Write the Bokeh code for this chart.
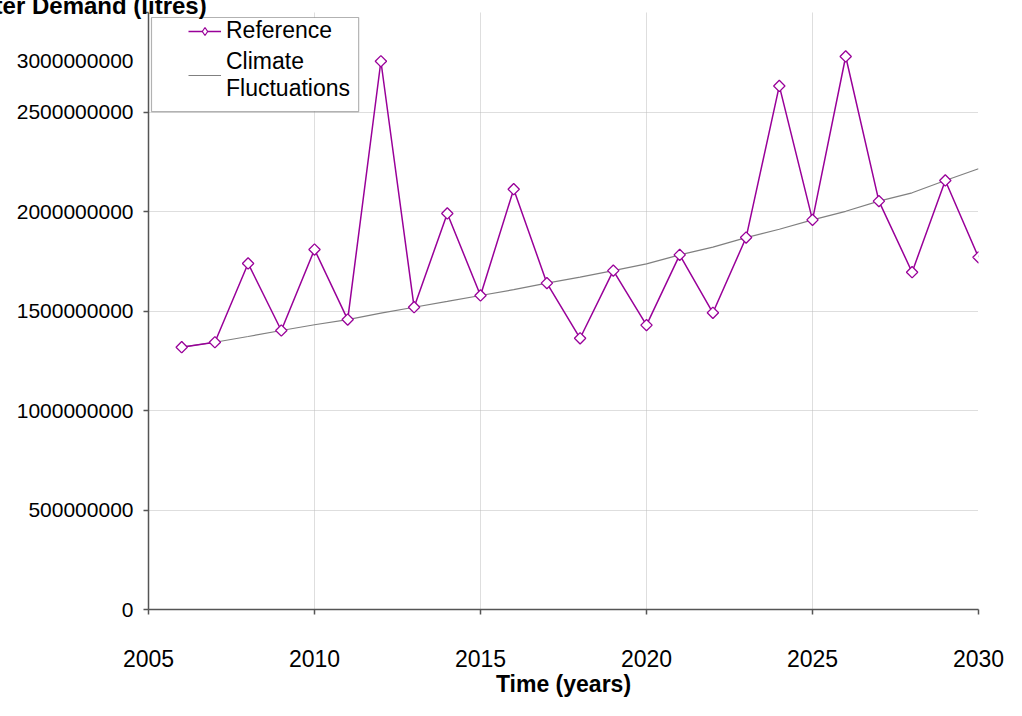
import math
from bokeh.plotting import figure
from bokeh.models import (FixedTicker, Legend, LegendItem, BoxAnnotation, Range1d, LinearAxis)
from bokeh.embed import file_html
from bokeh.resources import INLINE

# ---- data ----
years = list(range(2006, 2031))
reference = [1318e6, 1343e6, 1739e6, 1402e6, 1809e6, 1457e6, 2755e6, 1519e6, 1990e6, 1578e6,
             2112e6, 1640e6, 1363e6, 1703e6, 1429e6, 1782e6, 1491e6, 1869e6, 2631e6, 1958e6,
             2779e6, 2052e6, 1695e6, 2156e6, 1770e6]
climate = [1318e6, 1343e6, 1372e6, 1402e6, 1431e6, 1457e6, 1489e6, 1519e6, 1548e6, 1578e6,
           1607e6, 1640e6, 1670e6, 1703e6, 1737e6, 1782e6, 1821e6, 1869e6, 1911e6, 1958e6,
           2001e6, 2052e6, 2094e6, 2156e6, 2215e6]
x_ticks = [2005, 2010, 2015, 2020, 2025, 2030]
y_ticks = [0, 500000000, 1000000000, 1500000000, 2000000000, 2500000000, 3000000000]
y_tick_labels = ["0", "500000000", "1000000000", "1500000000", "2000000000", "2500000000", "3000000000"]

FONT = "Liberation Sans"
PURPLE = "#990099"
GREY = "#808080"
AXIS = "#555555"

W, H = 1006, 700
LEFT, TOP, RIGHT, BOTTOM = 148, 12, 28, 91
Y0, Y1 = 0, 3000000000
frame_h = H - TOP - BOTTOM
units_per_px = (Y1 - Y0) / frame_h

p = figure(width=W, height=H, output_backend="svg", toolbar_location=None,
           x_range=Range1d(2005, 2030), y_range=Range1d(Y0, Y1),
           min_border_left=LEFT, min_border_right=RIGHT, min_border_top=TOP,
           min_border_bottom=BOTTOM)
p.outline_line_color = None
p.background_fill_color = "white"

# title of the value axis, cut by the left edge as in the reference
p.title.text = "Water Demand (litres)"
p.title.text_font = FONT
p.title.text_font_size = "24px"
p.title.text_font_style = "bold"
p.title.text_color = "black"
p.title.align = "left"
p.title.offset = -189
p.title.vertical_align = "top"
p.title.standoff = -17

# grids
for g in (p.xgrid, p.ygrid):
    g.grid_line_color = "#bdbdbd"
    g.grid_line_dash = "1 1"
    g.grid_line_width = 1

# x axis
p.xaxis.ticker = FixedTicker(ticks=x_ticks)
# inner y axis: line and tick marks only
p.yaxis.ticker = FixedTicker(ticks=y_ticks)
p.yaxis.major_label_overrides = {t: "" for t in y_ticks}
p.yaxis.major_label_standoff = 0
for ax in (p.xaxis, p.yaxis):
    ax.axis_line_color = AXIS
    ax.axis_line_width = 1.5
    ax.major_tick_line_color = AXIS
    ax.major_tick_line_width = 1.5
    ax.major_tick_out = 5
    ax.major_tick_in = 0
    ax.minor_tick_line_color = None
    ax.major_label_text_font = FONT
    ax.major_label_text_color = "black"
p.xaxis.major_label_text_font_size = "23px"
p.xaxis.major_label_standoff = 35
p.xaxis.axis_label = "Time (years)"
p.xaxis.axis_label_text_font = FONT
p.xaxis.axis_label_text_font_size = "23px"
p.xaxis.axis_label_text_font_style = "bold"
p.xaxis.axis_label_text_color = "black"
p.xaxis.axis_label_standoff = 1

# outer y axis: the tick labels, the top one displaced lower as in the reference
label_pos = list(y_ticks)
label_pos[-1] = int(round(y_ticks[-1] - 48 * units_per_px))
ylab = LinearAxis(ticker=FixedTicker(ticks=label_pos, minor_ticks=[]),
                  major_label_overrides={v: s for v, s in zip(label_pos, y_tick_labels)},
                  axis_line_color=None, major_tick_line_color=None, minor_tick_line_color=None,
                  major_tick_out=0, major_tick_in=0, minor_tick_out=0, minor_tick_in=0,
                  major_label_standoff=10, major_label_text_font=FONT,
                  major_label_text_font_size="21px", major_label_text_color="black")
p.add_layout(ylab, "left")

# series
clim_line = p.line(years, climate, line_color=GREY, line_width=1.2)
ref_line = p.line(years, reference, line_color=PURPLE, line_width=1.5)
# legend swatch for the diamond marker (legend glyphs ignore rotation); it sits under
# the first reference marker, which hides it
ref_swatch = p.scatter(x=years[:1], y=reference[:1], marker="diamond", size=11,
                       line_color=PURPLE, fill_color="white", line_width=1.2)
ref_pts = p.scatter(years, reference, marker="square", angle=math.pi / 4, size=8,
                    line_color=PURPLE, fill_color="white", line_width=1.3)

# legend box
box = BoxAnnotation(left=2005.09, right=2011.33, top=2975e6, bottom=2502e6,
                    fill_color="white", fill_alpha=1.0, line_color="black", line_width=1.2,
                    level="annotation")
p.add_layout(box)

legend = Legend(items=[LegendItem(label="Reference", renderers=[ref_line, ref_swatch]),
                       LegendItem(label="Climate\nFluctuations", renderers=[clim_line])],
                location=(40, 507), padding=0, spacing=4, margin=0,
                glyph_width=33, glyph_height=20, label_standoff=5,
                label_text_font=FONT, label_text_font_size="23px",
                label_text_color="black",
                border_line_color=None, background_fill_alpha=0)
p.add_layout(legend)

open("out.html", "w").write(file_html(p, INLINE))
